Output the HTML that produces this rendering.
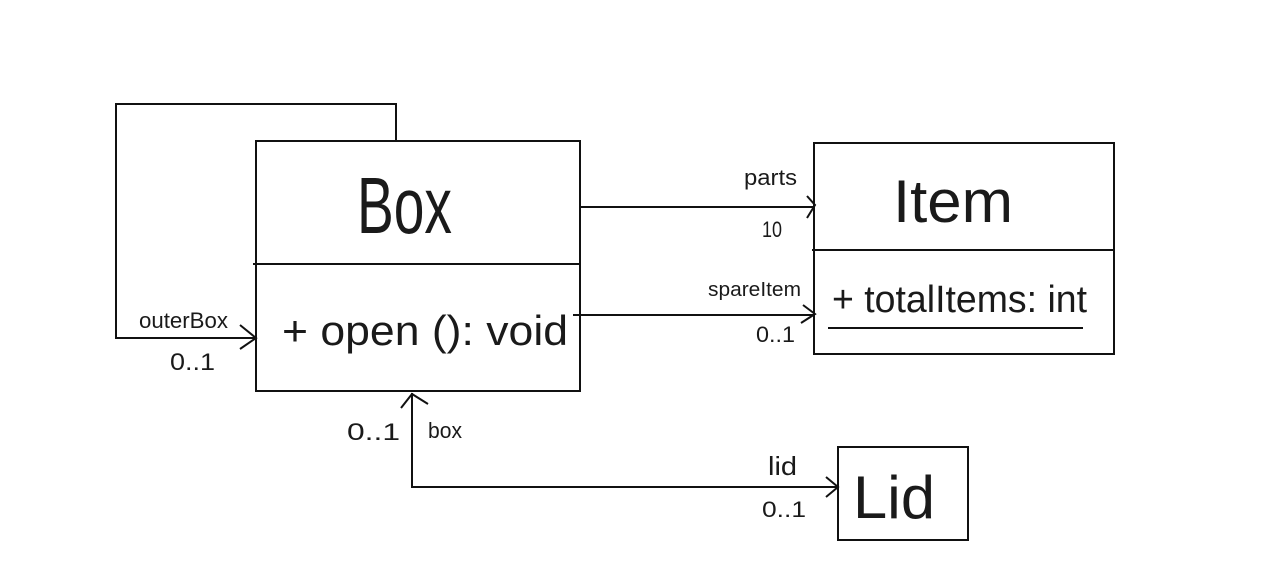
<!DOCTYPE html>
<html><head><meta charset="utf-8"><style>
html,body{margin:0;padding:0;background:#fff;}
svg{display:block;}
text{font-family:"Liberation Sans",sans-serif;fill:#1a1a1a;}
</style></head><body>
<svg width="1280" height="576" viewBox="0 0 1280 576" xmlns="http://www.w3.org/2000/svg">
<g fill="none" stroke="#111" stroke-width="2">
<polyline points="396,141 396,104 116,104 116,338 256,338"/>
<polyline points="240,325 256,338 240,349"/>
<rect x="256" y="141" width="324" height="250"/>
<line x1="253" y1="264" x2="580" y2="264"/>
<line x1="580" y1="207" x2="815" y2="207"/>
<polyline points="807,196 815,205 807,218"/>
<line x1="573" y1="315" x2="815" y2="315"/>
<polyline points="803,305 815,314 801,323"/>
<rect x="814" y="143" width="300" height="211"/>
<line x1="812" y1="250" x2="1114" y2="250"/>
<line x1="828" y1="328" x2="1083" y2="328"/>
<rect x="838" y="447" width="130" height="93"/>
<polyline points="412,393 412,487 838,487"/>
<polyline points="401,408 412,394 428,404"/>
<polyline points="826,477 838,487 826,497"/>
</g>
<text x="357" y="233" font-size="80" textLength="95" lengthAdjust="spacingAndGlyphs">Box</text>
<text x="282" y="345" font-size="42" textLength="286" lengthAdjust="spacingAndGlyphs">+ open (): void</text>
<text x="893" y="222" font-size="60" textLength="120" lengthAdjust="spacingAndGlyphs">Item</text>
<text x="832" y="312" font-size="38" textLength="255" lengthAdjust="spacingAndGlyphs">+ totalItems: int</text>
<text x="853" y="518" font-size="60" textLength="82" lengthAdjust="spacingAndGlyphs">Lid</text>
<text x="139" y="328" font-size="22" textLength="89" lengthAdjust="spacingAndGlyphs">outerBox</text>
<text x="170" y="370" font-size="24" textLength="45" lengthAdjust="spacingAndGlyphs">0..1</text>
<text x="744" y="185" font-size="22" textLength="53" lengthAdjust="spacingAndGlyphs">parts</text>
<text x="762" y="237" font-size="22" textLength="20" lengthAdjust="spacingAndGlyphs">10</text>
<text x="708" y="296" font-size="20" textLength="93" lengthAdjust="spacingAndGlyphs">spareItem</text>
<text x="756" y="342" font-size="22" textLength="39" lengthAdjust="spacingAndGlyphs">0..1</text>
<text x="347" y="440" font-size="24" textLength="53" lengthAdjust="spacingAndGlyphs">0..1</text>
<text x="428" y="438" font-size="22" textLength="34" lengthAdjust="spacingAndGlyphs">box</text>
<text x="768" y="475" font-size="26" textLength="29" lengthAdjust="spacingAndGlyphs">lid</text>
<text x="762" y="517" font-size="22" textLength="44" lengthAdjust="spacingAndGlyphs">0..1</text>
</svg>
</body></html>
